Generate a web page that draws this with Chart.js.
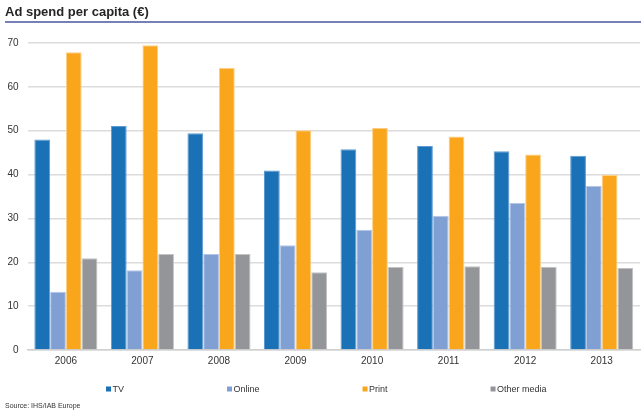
<!DOCTYPE html>
<html>
<head>
<meta charset="utf-8">
<script src="https://cdn.jsdelivr.net/npm/chart.js@4/dist/chart.umd.min.js"></script>
<style>
  html, body { margin: 0; padding: 0; background: #fff; }
  #wrap { width: 641px; height: 415px; position: relative; }
</style>
</head>
<body>
<div id="wrap"><canvas id="chart1"></canvas></div>
<script>
const years = ["2006", "2007", "2008", "2009", "2010", "2011", "2012", "2013"];
const tv = [48.0, 51.1, 49.4, 40.9, 45.8, 46.5, 45.3, 44.3];
const online = [13.3, 18.2, 21.9, 23.9, 27.4, 30.6, 33.5, 37.4];
const print = [67.9, 69.5, 64.3, 50.1, 50.6, 48.7, 44.6, 39.9];
const other = [20.9, 21.9, 21.9, 17.7, 18.9, 19.1, 19.0, 18.7];
const yTicks = [0, 10, 20, 30, 40, 50, 60, 70];

Chart.defaults.font.family = "'Liberation Sans', Arial, sans-serif";
Chart.defaults.color = "#333";

// title underline, legend row and source line
const extras = {
  id: "extras",
  afterDraw(chart) {
    const ctx = chart.ctx;
    ctx.save();
    ctx.strokeStyle = "#48569a";
    ctx.lineWidth = 1.5;
    ctx.beginPath();
    ctx.moveTo(5, 22);
    ctx.lineTo(chart.width, 22);
    ctx.stroke();

    // legend
    ctx.font = "9px 'Liberation Sans', Arial, sans-serif";
    ctx.textBaseline = "middle";
    ctx.textAlign = "left";
    const box = 5, gap = 1.5, space = 103;
    const items = chart.data.datasets.map((d) => ({
      text: d.label,
      color: d.backgroundColor,
      w: box + gap + ctx.measureText(d.label).width,
    }));
    let total = items.reduce((s, it) => s + it.w, 0) + space * (items.length - 1);
    let x = (chart.chartArea.left + chart.chartArea.right) / 2 - 7.5 - total / 2;
    const y = 389;
    items.forEach((it) => {
      ctx.fillStyle = it.color;
      ctx.fillRect(x, y - box / 2, box, box);
      ctx.fillStyle = "#333";
      ctx.fillText(it.text, x + box + gap, y + 0.5);
      x += it.w + space;
    });

    // source
    ctx.font = "7px 'Liberation Sans', Arial, sans-serif";
    ctx.fillStyle = "#333";
    ctx.fillText("Source: IHS/IAB Europe", 5, 406);
    ctx.restore();
  },
};

function ds(label, data, color, edge) {
  return {
    label: label,
    data: data,
    backgroundColor: color,
    borderColor: edge,
    borderWidth: 1,
    categoryPercentage: 0.824,
    barPercentage: 1,
  };
}

new Chart(document.getElementById("chart1"), {
  type: "bar",
  data: {
    labels: years,
    datasets: [
      ds("TV", tv, "#1a71b6", "#5d9bd2"),
      ds("Online", online, "#809fd3", "#b3c6e6"),
      ds("Print", print, "#f9a61c", "#fccf85"),
      ds("Other media", other, "#939598", "#c2c3c5"),
    ],
  },
  options: {
    responsive: true,
    maintainAspectRatio: false,
    animation: false,
    layout: { padding: { left: 5, right: 1, top: 0, bottom: 50 } },
    plugins: {
      legend: { display: false },
      tooltip: { enabled: false },
      title: {
        display: true,
        text: "Ad spend per capita (€)",
        align: "start",
        color: "#262626",
        font: { size: 13, weight: "bold" },
        padding: { top: 5, bottom: 22.4 },
      },
    },
    scales: {
      x: {
        grid: { display: false, drawTicks: false },
        border: { color: "#cfcfcf", width: 1.5 },
        ticks: { font: { size: 10 }, padding: 5, color: "#333" },
        afterFit(scale) { scale.height = 15; },
      },
      y: {
        min: 0,
        max: 70,
        afterBuildTicks(scale) { scale.ticks = yTicks.map((v) => ({ value: v })); },
        grid: { color: "#dcdcdc", lineWidth: 1.5, drawTicks: false },
        border: { display: false },
        ticks: { font: { size: 10 }, padding: 9, color: "#333" },
        afterFit(scale) { scale.width = 22.6; },
      },
    },
  },
  plugins: [extras],
});
</script>
</body>
</html>
